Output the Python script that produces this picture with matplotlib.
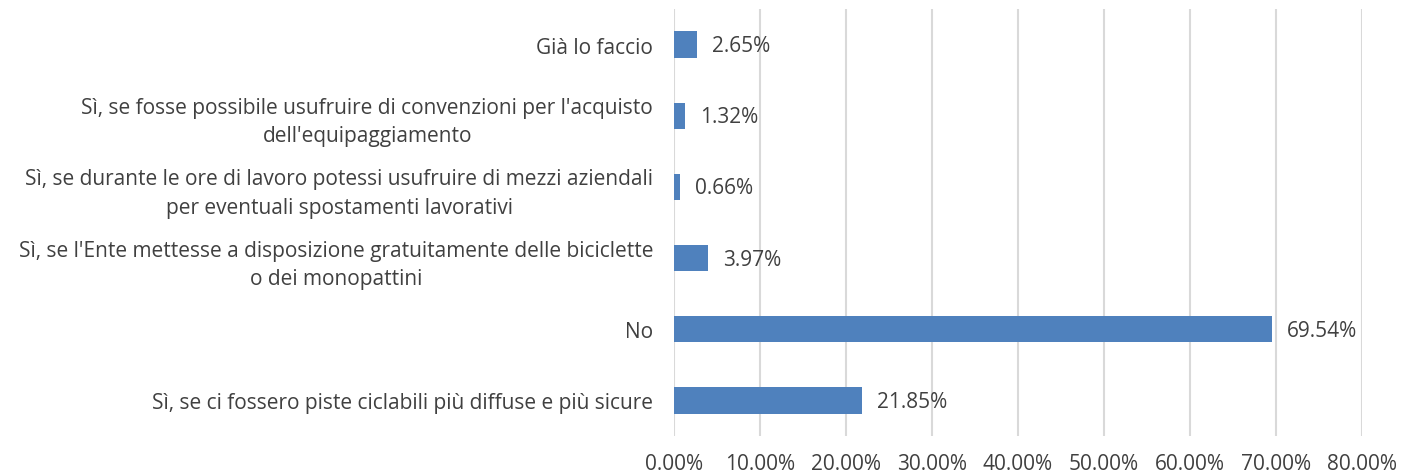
import matplotlib
matplotlib.use("Agg")
import matplotlib.pyplot as plt
from matplotlib.ticker import FuncFormatter

categories = [
    "Sì, se ci fossero piste ciclabili più diffuse e più sicure",
    "No",
    "Sì, se l'Ente mettesse a disposizione gratuitamente delle biciclette\no dei monopattini",
    "Sì, se durante le ore di lavoro potessi usufruire di mezzi aziendali\nper eventuali spostamenti lavorativi",
    "Sì, se fosse possibile usufruire di convenzioni per l'acquisto\ndell'equipaggiamento",
    "Già lo faccio",
]
values = [21.85, 69.54, 3.97, 0.66, 1.32, 2.65]
xticks = [0, 10, 20, 30, 40, 50, 60, 70, 80]

plt.rcParams['font.family'] = ['Open Sans', 'DejaVu Sans']
text_color = "#404040"
fs = 15

fig = plt.figure(figsize=(14.03, 4.77), dpi=100)
ax = fig.add_axes([0.4804, 0.0839, 0.4904, 0.8951])

y = list(range(len(categories)))
ax.barh(y, values, height=0.37, color="#4f81bd", zorder=3)
for yi, v in zip(y, values):
    ax.annotate(f"{v:.2f}%", xy=(v, yi), xytext=(15, -1), textcoords="offset pixels",
                va="center", ha="left", fontsize=fs, color=text_color, zorder=4)

ax.set_xlim(0, 80)
ax.set_ylim(-0.5, 5.5)
ax.set_xticks(xticks)
ax.xaxis.set_major_formatter(FuncFormatter(lambda v, p: f"{v:.2f}%"))
ax.set_yticks(y)
ax.set_yticklabels(categories, multialignment="center", linespacing=1.45)
ax.tick_params(axis="y", length=0, pad=15, labelsize=fs, labelcolor=text_color)
ax.tick_params(axis="x", length=0, pad=12, labelsize=fs, labelcolor=text_color)
ax.grid(axis="x", color="#d9d9d9", linewidth=1.5, zorder=0)
for s in ax.spines.values():
    s.set_visible(False)

fig.savefig("out.png", dpi=100)
